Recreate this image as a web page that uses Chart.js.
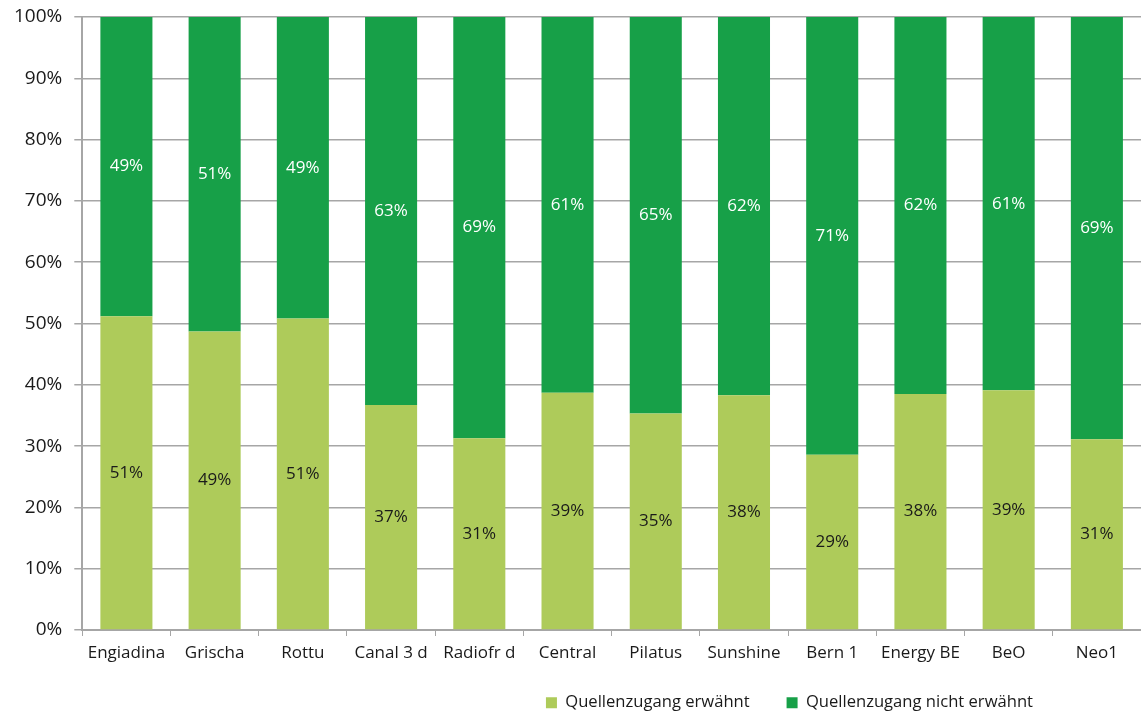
<!DOCTYPE html>
<html>
<head>
<meta charset="utf-8">
<script src="https://cdn.jsdelivr.net/npm/chart.js@4"></script>
<style>
  html, body { margin: 0; padding: 0; background: #fff; }
  #wrap { width: 1141px; height: 713px; position: relative; }
</style>
</head>
<body>
<div id="wrap"><canvas id="chart"></canvas></div>
<script>
const stations = ["Engiadina", "Grischa", "Rottu", "Canal 3 d", "Radiofr d", "Central", "Pilatus", "Sunshine", "Bern 1", "Energy BE", "BeO", "Neo1"];
const erwaehnt = [51.2, 48.7, 50.8, 36.7, 31.3, 38.7, 35.3, 38.3, 28.6, 38.5, 39.1, 31.1];
const nichtErwaehnt = [48.8, 51.3, 49.2, 63.3, 68.7, 61.3, 64.7, 61.7, 71.4, 61.5, 60.9, 68.9];
const labelsErwaehnt = ["51%", "49%", "51%", "37%", "31%", "39%", "35%", "38%", "29%", "38%", "39%", "31%"];
const labelsNicht = ["49%", "51%", "49%", "63%", "69%", "61%", "65%", "62%", "71%", "62%", "61%", "69%"];

const lightGreen = "#aecb5a";
const darkGreen = "#17a048";
const gridColor = "#a6a6a6";
const fontFamily = "'Open Sans', sans-serif";

// draws the percentage in the middle of each segment
const segmentLabels = {
  id: "segmentLabels",
  afterDatasetsDraw(chart) {
    const ctx = chart.ctx;
    ctx.save();
    ctx.font = "17px " + fontFamily;
    ctx.textAlign = "center";
    ctx.textBaseline = "middle";
    chart.data.datasets.forEach((ds, i) => {
      const meta = chart.getDatasetMeta(i);
      meta.data.forEach((bar, j) => {
        const p = bar.getCenterPoint();
        ctx.fillStyle = i === 0 ? "#1a1a1a" : "#ffffff";
        ctx.fillText(ds.pctLabels[j], p.x, p.y);
      });
    });
    ctx.restore();
  }
};

// legend in the reference ends well before the right edge
const legendShift = {
  id: "legendShift",
  beforeDraw(chart) {
    if (chart.legend) {
      chart.legend.right = chart.width - 84;
    }
  }
};

new Chart(document.getElementById("chart"), {
  type: "bar",
  data: {
    labels: stations,
    datasets: [
      {
        label: "Quellenzugang erwähnt",
        data: erwaehnt,
        pctLabels: labelsErwaehnt,
        backgroundColor: lightGreen,
        categoryPercentage: 1,
        barPercentage: 0.59,
      },
      {
        label: "Quellenzugang nicht erwähnt",
        data: nichtErwaehnt,
        pctLabels: labelsNicht,
        backgroundColor: darkGreen,
        categoryPercentage: 1,
        barPercentage: 0.59,
      },
    ],
  },
  options: {
    responsive: true,
    maintainAspectRatio: false,
    animation: false,
    layout: { padding: { top: 0, right: 0, left: 2, bottom: -8 } },
    plugins: {
      tooltip: { enabled: false },
      legend: {
        position: "bottom",
        align: "end",
        labels: {
          boxWidth: 11,
          boxHeight: 11,
          padding: 24,
          color: "#1a1a1a",
          font: { family: fontFamily, size: 16.6 },
          generateLabels(chart) {
            const items = Chart.defaults.plugins.legend.labels.generateLabels(chart);
            // a bit more room between the two entries
            items[0].text = items[0].text + "   ";
            return items;
          },
        },
      },
    },
    scales: {
      x: {
        stacked: true,
        grid: {
          offset: true,
          drawOnChartArea: false,
          drawTicks: true,
          tickLength: 6,
          color: gridColor,
        },
        border: { color: gridColor, width: 2 },
        ticks: {
          color: "#1a1a1a",
          padding: 7,
          maxRotation: 0,
          font: { family: fontFamily, size: 17 },
        },
      },
      y: {
        stacked: true,
        min: 0,
        max: 100,
        afterFit(scale) {
          scale.paddingTop = 17;
        },
        grid: {
          color: gridColor,
          lineWidth: 1.5,
          tickLength: 8,
        },
        border: { color: gridColor, width: 2 },
        ticks: {
          stepSize: 10,
          color: "#1a1a1a",
          padding: 12,
          font: { family: fontFamily, size: 19 },
          callback: (v) => v + "%",
        },
      },
    },
  },
  plugins: [segmentLabels, legendShift],
});
</script>
</body>
</html>
